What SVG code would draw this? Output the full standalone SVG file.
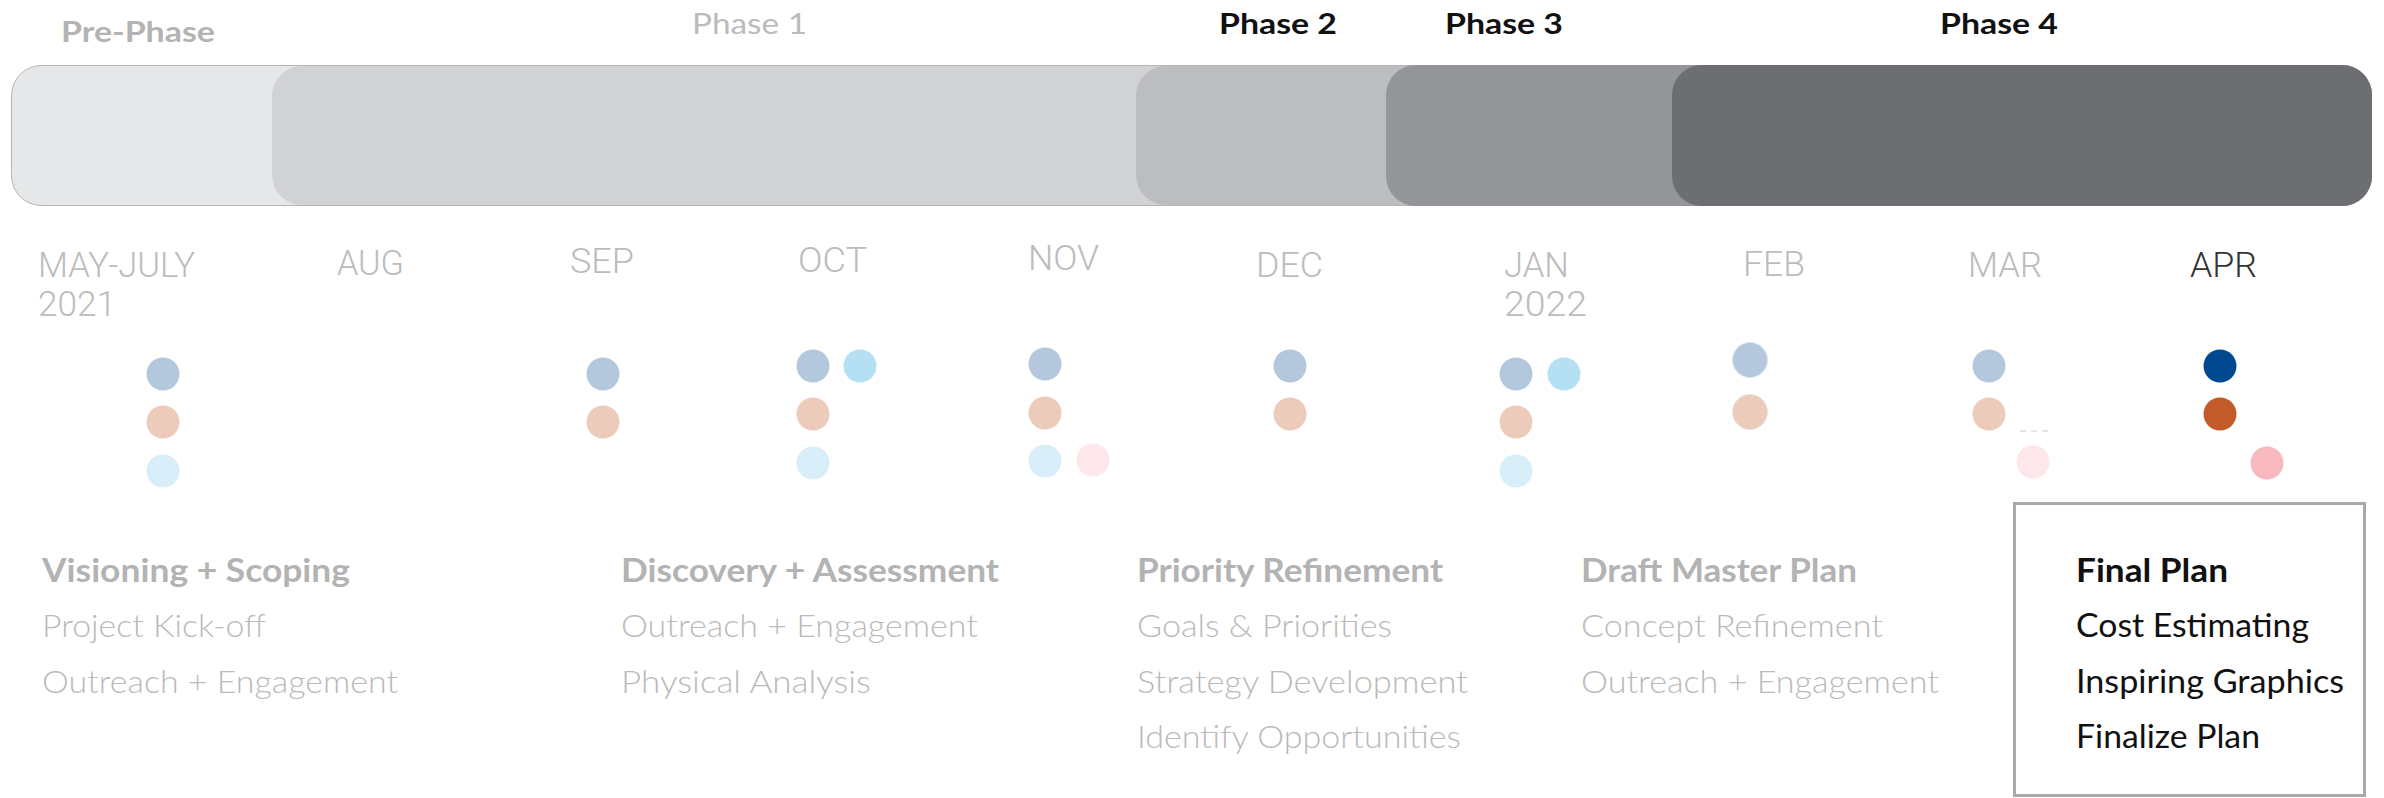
<svg xmlns="http://www.w3.org/2000/svg" width="2384" height="798" viewBox="0 0 2384 798">
<style>
.ph{font-family:Lato,"Liberation Sans",sans-serif;font-size:29px}
.mo{font-family:Roboto,"Liberation Sans",sans-serif;font-weight:300;font-size:35px;fill:#bcbcbc}
.hd{font-family:Lato,"Liberation Sans",sans-serif;font-weight:700;font-size:32px;fill:#b3b3b3}
.it{font-family:Lato,"Liberation Sans",sans-serif;font-weight:300;font-size:32px;fill:#bababa}
.edge{stroke:#b5b5b5;stroke-width:1;fill:none}
</style>
<rect width="2384" height="798" fill="#ffffff"/>
<g id="bars">
  <rect id="bar-pre" x="11.5" y="65.5" width="2360" height="140" rx="30" fill="#e6e7e8" stroke="#b5b5b5" stroke-width="1"/>
  <rect id="bar-p1" x="272" y="66" width="2100" height="139" rx="30" fill="#d1d2d4"/>
  <rect id="bar-p2" x="1136" y="66" width="1236" height="139" rx="30" fill="#bcbdbf"/>
  <path class="edge" d="M40 65.5H1400M40 205.5H1400"/>
  <rect id="bar-p3" x="1386" y="65" width="986" height="141" rx="30" fill="#939598"/>
  <rect id="bar-p4" x="1672" y="65" width="700" height="141" rx="30" fill="#6d6e71"/>
</g>
<g id="phase-labels">
  <text class="ph" x="61" y="42" font-weight="700" fill="#b3b3b3" textLength="154" lengthAdjust="spacingAndGlyphs">Pre-Phase</text>
  <text class="ph" x="692" y="34" font-weight="400" fill="#bbbbbb" textLength="115" lengthAdjust="spacingAndGlyphs">Phase 1</text>
  <text class="ph" x="1219" y="34" font-weight="700" fill="#111111" textLength="118" lengthAdjust="spacingAndGlyphs">Phase 2</text>
  <text class="ph" x="1445" y="34" font-weight="700" fill="#111111" textLength="118" lengthAdjust="spacingAndGlyphs">Phase 3</text>
  <text class="ph" x="1940" y="34" font-weight="700" fill="#111111" textLength="118" lengthAdjust="spacingAndGlyphs">Phase 4</text>
</g>
<g id="months">
  <text class="mo" x="38" y="277" textLength="157" lengthAdjust="spacingAndGlyphs">MAY-JULY</text>
  <text class="mo" x="38" y="316" textLength="78" lengthAdjust="spacingAndGlyphs">2021</text>
  <text class="mo" x="337" y="275" textLength="67" lengthAdjust="spacingAndGlyphs">AUG</text>
  <text class="mo" x="570" y="273" textLength="64" lengthAdjust="spacingAndGlyphs">SEP</text>
  <text class="mo" x="798" y="272" textLength="69" lengthAdjust="spacingAndGlyphs">OCT</text>
  <text class="mo" x="1028" y="270" textLength="71" lengthAdjust="spacingAndGlyphs">NOV</text>
  <text class="mo" x="1256" y="277" textLength="67" lengthAdjust="spacingAndGlyphs">DEC</text>
  <text class="mo" x="1504" y="277" textLength="65" lengthAdjust="spacingAndGlyphs">JAN</text>
  <text class="mo" x="1504" y="316" textLength="83" lengthAdjust="spacingAndGlyphs">2022</text>
  <text class="mo" x="1743" y="276" textLength="62" lengthAdjust="spacingAndGlyphs">FEB</text>
  <text class="mo" x="1968" y="277" textLength="74" lengthAdjust="spacingAndGlyphs">MAR</text>
  <text class="mo" x="2190" y="277" textLength="67" lengthAdjust="spacingAndGlyphs" style="fill:#333333">APR</text>
</g>
<g id="dots">
  <g id="dots-may">
    <circle cx="163" cy="374" r="16.5" fill="#b3c7dd"/>
    <circle cx="163" cy="422" r="16.5" fill="#edcbbb"/>
    <circle cx="163" cy="471" r="16.5" fill="#d8eef8"/>
  </g>
  <g id="dots-sep">
    <circle cx="603" cy="374" r="16.5" fill="#b3c7dd"/>
    <circle cx="603" cy="422" r="16.5" fill="#edcbbb"/>
  </g>
  <g id="dots-oct">
    <circle cx="813" cy="366" r="16.5" fill="#b3c7dd"/>
    <circle cx="860" cy="366" r="16.5" fill="#b5dff2"/>
    <circle cx="813" cy="414" r="16.5" fill="#edcbbb"/>
    <circle cx="813" cy="463" r="16.5" fill="#d8eef8"/>
  </g>
  <g id="dots-nov">
    <circle cx="1045" cy="364" r="16.5" fill="#b3c7dd"/>
    <circle cx="1045" cy="413" r="16.5" fill="#edcbbb"/>
    <circle cx="1045" cy="461" r="16.5" fill="#d8eef8"/>
    <circle cx="1093" cy="460" r="16.5" fill="#fde7ea"/>
  </g>
  <g id="dots-dec">
    <circle cx="1290" cy="366" r="16.5" fill="#b3c7dd"/>
    <circle cx="1290" cy="414" r="16.5" fill="#edcbbb"/>
  </g>
  <g id="dots-jan">
    <circle cx="1516" cy="374" r="16.5" fill="#b3c7dd"/>
    <circle cx="1564" cy="374" r="16.5" fill="#b5dff2"/>
    <circle cx="1516" cy="422" r="16.5" fill="#edcbbb"/>
    <circle cx="1516" cy="471" r="16.5" fill="#d8eef8"/>
  </g>
  <g id="dots-feb">
    <circle cx="1750" cy="360" r="17.5" fill="#b3c7dd" stroke="#dfe6ee" stroke-width="1"/>
    <circle cx="1750" cy="412" r="17.5" fill="#edcbbb" stroke="#f3e0d7" stroke-width="1"/>
  </g>
  <g id="dots-mar">
    <circle cx="1989" cy="366" r="16.5" fill="#b3c7dd"/>
    <circle cx="1989" cy="414" r="16.5" fill="#edcbbb"/>
    <line x1="2020" y1="431" x2="2052" y2="431" stroke="#dddddd" stroke-width="1.5" stroke-dasharray="6 5"/>
    <circle cx="2033" cy="462" r="16.5" fill="#fde7ea"/>
  </g>
  <g id="dots-apr">
    <circle cx="2220" cy="366" r="16.5" fill="#004990"/>
    <circle cx="2220" cy="414" r="16.5" fill="#c35a29"/>
    <circle cx="2267" cy="463" r="16.5" fill="#f7b9be"/>
  </g>
</g>
<g id="col-visioning">
  <text class="hd" x="42" y="582" textLength="308" lengthAdjust="spacingAndGlyphs">Visioning + Scoping</text>
  <text class="it" x="42" y="637" textLength="224" lengthAdjust="spacingAndGlyphs">Project Kick-off</text>
  <text class="it" x="42" y="693" textLength="356" lengthAdjust="spacingAndGlyphs">Outreach + Engagement</text>
</g>
<g id="col-discovery">
  <text class="hd" x="621" y="582" textLength="378" lengthAdjust="spacingAndGlyphs">Discovery + Assessment</text>
  <text class="it" x="621" y="637" textLength="357" lengthAdjust="spacingAndGlyphs">Outreach + Engagement</text>
  <text class="it" x="621" y="693" textLength="250" lengthAdjust="spacingAndGlyphs">Physical Analysis</text>
</g>
<g id="col-priority">
  <text class="hd" x="1137" y="582" textLength="306" lengthAdjust="spacingAndGlyphs">Priority Refinement</text>
  <text class="it" x="1137" y="637" textLength="255" lengthAdjust="spacingAndGlyphs">Goals &amp; Priorities</text>
  <text class="it" x="1137" y="693" textLength="331" lengthAdjust="spacingAndGlyphs">Strategy Development</text>
  <text class="it" x="1137" y="748" textLength="324" lengthAdjust="spacingAndGlyphs">Identify Opportunities</text>
</g>
<g id="col-draft">
  <text class="hd" x="1581" y="582" textLength="276" lengthAdjust="spacingAndGlyphs">Draft Master Plan</text>
  <text class="it" x="1581" y="637" textLength="302" lengthAdjust="spacingAndGlyphs">Concept Refinement</text>
  <text class="it" x="1581" y="693" textLength="358" lengthAdjust="spacingAndGlyphs">Outreach + Engagement</text>
</g>
<g id="col-final">
  <rect x="2014.5" y="503.5" width="350" height="292" fill="none" stroke="#a9a9a9" stroke-width="3"/>
  <text class="hd" x="2076" y="582" textLength="152" lengthAdjust="spacingAndGlyphs" style="fill:#111111">Final Plan</text>
  <text class="it" x="2076" y="637" textLength="233" lengthAdjust="spacingAndGlyphs" style="fill:#111111;font-weight:400">Cost Estimating</text>
  <text class="it" x="2076" y="693" textLength="268" lengthAdjust="spacingAndGlyphs" style="fill:#111111;font-weight:400">Inspiring Graphics</text>
  <text class="it" x="2076" y="748" textLength="184" lengthAdjust="spacingAndGlyphs" style="fill:#111111;font-weight:400">Finalize Plan</text>
</g>
</svg>
